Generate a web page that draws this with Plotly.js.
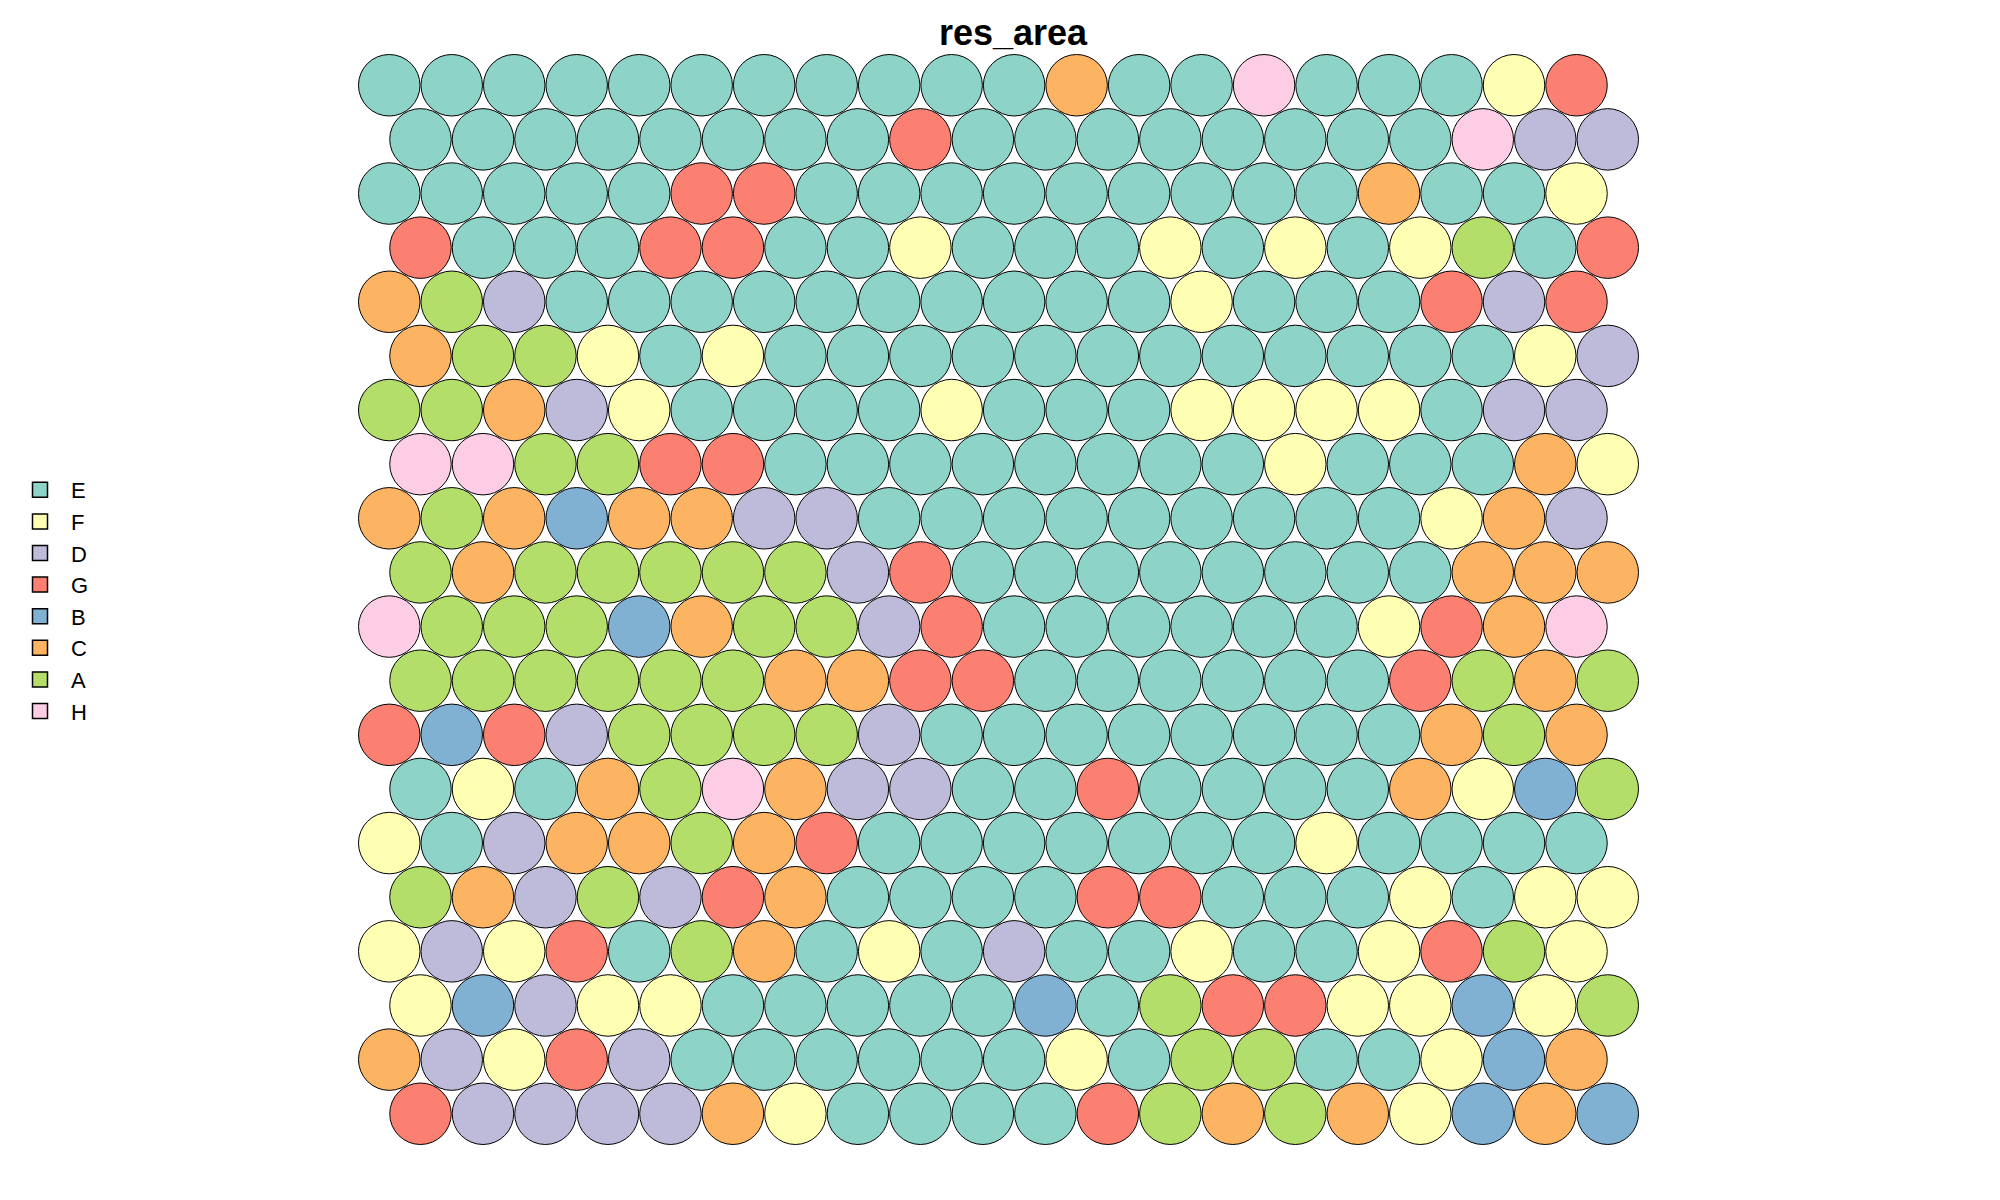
<!DOCTYPE html>
<html>
<head>
<meta charset="utf-8">
<script src="https://cdn.plot.ly/plotly-3.0.1.min.js"></script>
<style>html,body{margin:0;padding:0;background:#fff;}#chart{width:2000px;height:1200px;}</style>
</head>
<body>
<div id="chart"></div>
<script>
// Legend order of classes and their Set3 colours
const categories = ["E", "F", "D", "G", "B", "C", "A", "H"];
const palette = ["#8DD3C7", "#FFFFB3", "#BEBADA", "#FB8072", "#80B1D3", "#FDB462", "#B3DE69", "#FCCDE5"];

// Class of each SOM unit, rows listed from top to bottom (20 x 20 hexagonal grid)
const unitRows = [
  "EEEEEEEEEEECEEHEEEFG",
  "EEEEEEEEGEEEEEEEEHDD",
  "EEEEEGGEEEEEEEEECEEF",
  "GEEEGGEEFEEEFEFEFAEG",
  "CADEEEEEEEEEEFEEEGDG",
  "CAAFEFEEEEEEEEEEEEFD",
  "AACDFEEEEFEEEFFFFEDD",
  "HHAAGGEEEEEEEEFEEECF",
  "CACBCCDDEEEEEEEEEFCD",
  "ACAAAAADGEEEEEEEECCC",
  "HAAABCAADGEEEEEEFGCH",
  "AAAAAACCGGEEEEEEGACA",
  "GBGDAAAADEEEEEEEECAC",
  "EFECAHCDDEEGEEEECFBA",
  "FEDCCACGEEEEEEEFEEEE",
  "ACDADGCEEEEGGEEEFEFF",
  "FDFGEACEFEDEEFEEFGAF",
  "FBDFFEEEEEBEAGGFFBFA",
  "CDFGDEEEEEEFEAAEEFBC",
  "GDDDDCFEEEEGACACFBCB"
];
const chartTitle = "res_area";

const nRows = unitRows.length;
const h = Math.sqrt(3) / 2;
const traces = [];
categories.forEach((cat, k) => {
  const xs = [], ys = [];
  unitRows.forEach((row, r) => {
    row.split("").forEach((c, j) => {
      if (c === cat) {
        xs.push(j + 1 + (r % 2 === 1 ? 0.5 : 0));
        ys.push((nRows - 1 - r) * h);
      }
    });
  });
  traces.push({
    type: "scatter", mode: "markers", x: xs, y: ys, name: cat,
    showlegend: false, hoverinfo: "name",
    marker: {symbol: "circle", size: 61.5, color: palette[k], line: {color: "#000", width: 1}}
  });
});
categories.forEach((cat, k) => {
  traces.push({
    type: "scatter", mode: "markers", x: [null], y: [null], name: cat,
    showlegend: true,
    marker: {symbol: "square", size: 15, color: palette[k], line: {color: "#000", width: 1.5}}
  });
});

const layout = {
  width: 2000, height: 1200,
  paper_bgcolor: "#fff", plot_bgcolor: "#fff",
  margin: {l: 358, r: 361, t: 54, b: 55},
  title: {text: "<b>" + chartTitle + "</b>", x: 0.5065, xref: "container", xanchor: "center",
          y: 0.973, yref: "container", yanchor: "middle",
          font: {family: "Liberation Sans, Arial, sans-serif", size: 36, color: "#000"}},
  xaxis: {range: [0.5, 21], visible: false, showgrid: false, zeroline: false, fixedrange: true},
  yaxis: {range: [-0.5, (nRows - 1) * h + 0.5], visible: false, showgrid: false, zeroline: false, fixedrange: true},
  showlegend: true,
  legend: {x: 0.0045, xref: "container", xanchor: "left", y: 1 - 469 / 1200, yref: "container", yanchor: "top",
           font: {family: "Liberation Sans, Arial, sans-serif", size: 22, color: "#000"},
           itemwidth: 52, bgcolor: "rgba(0,0,0,0)", traceorder: "normal", tracegroupgap: 0}
};

Plotly.newPlot("chart", traces, layout, {displayModeBar: false, staticPlot: true});
</script>
</body>
</html>
